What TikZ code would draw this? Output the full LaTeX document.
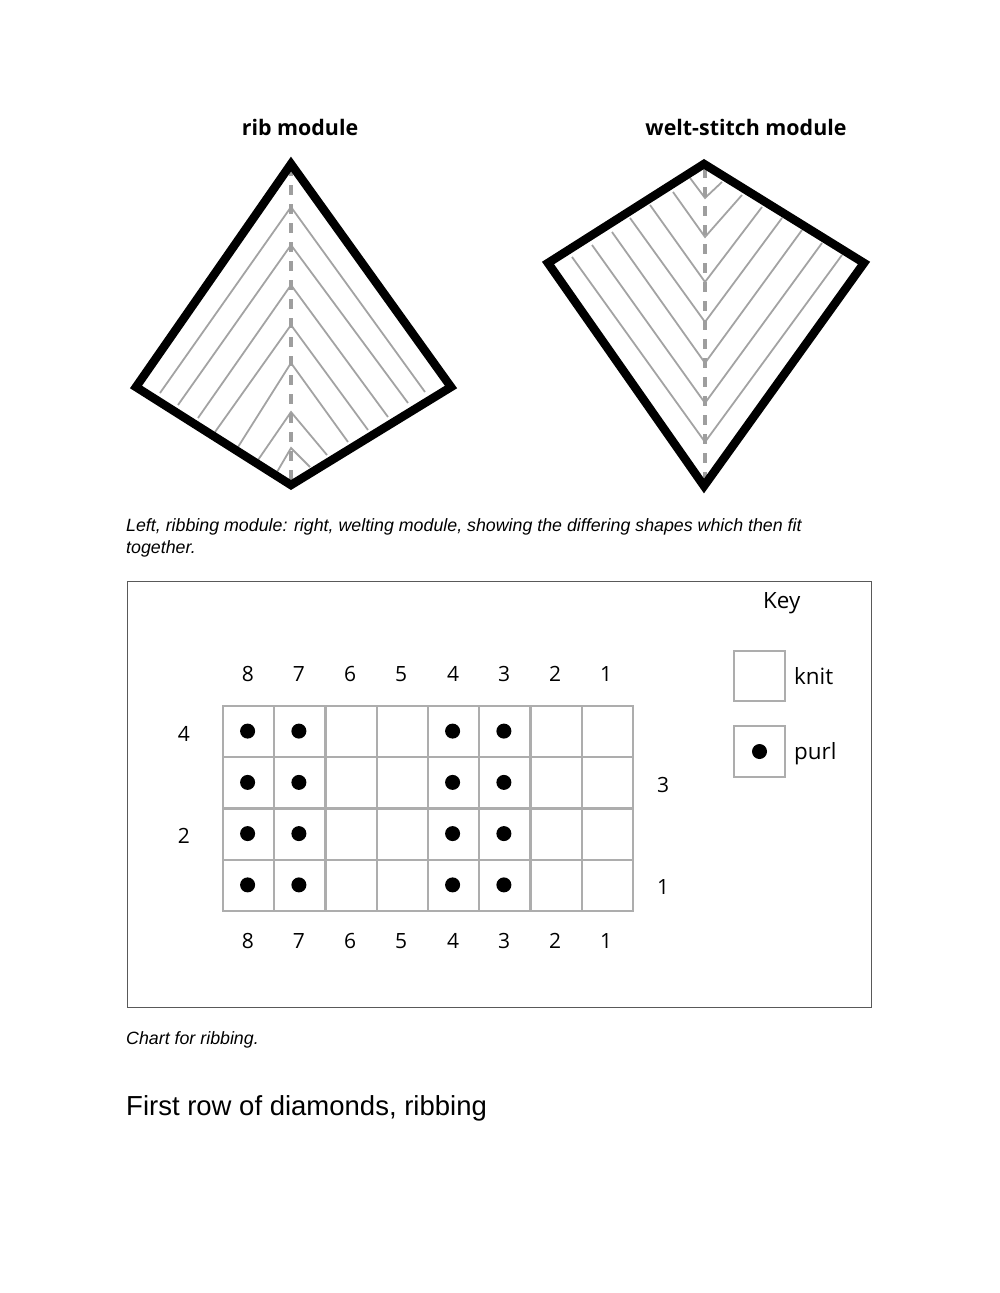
\documentclass[tikz,border=0pt]{standalone}
\usepackage{fontspec}
\setmainfont{Liberation Sans}
\newfontfamily\chartfont{Open Sans}
\usetikzlibrary{positioning}

\begin{document}
\begin{tikzpicture}[x=1pt,y=-1pt,
    outline/.style={draw=black,line width=8.5pt,line join=miter,miter limit=10},
    chevron/.style={draw=black!36,line width=1.8pt},
    spine/.style={draw=black!38,line width=4pt,dash pattern=on 9.5pt off 9.5pt},
    title/.style={font=\chartfont\bfseries\fontsize{21.4}{26}\selectfont,inner sep=0pt},
    caption/.style={font=\itshape\fontsize{17.8}{20}\selectfont,anchor=base west,inner sep=0pt},
    number/.style={font=\chartfont\fontsize{21}{24}\selectfont,inner sep=0pt},
    keyword/.style={font=\chartfont\fontsize{22.4}{26}\selectfont,anchor=base west,inner sep=0pt},
    cell/.style={draw=black!32,line width=2.4pt,minimum size=51.25pt,inner sep=0pt,outer sep=0pt},
    keycell/.style={draw=black!32,line width=2.4pt,minimum size=50.5pt,inner sep=0pt,outer sep=0pt},
    stitch/.style={circle,fill=black,minimum size=15pt,inner sep=0pt}]
    \useasboundingbox (0,0) rectangle (999,1293);

    % rib module
    \node[title] (ribtitle) at (300,127) {rib module};
    \foreach \ax/\ay/\py/\bx/\by in {160/393/207/425/392, 178/405/245/408/403, 198/418/285/388/417,
        215/432/325/368/430, 238/447/363/348/442, 258/460/412/327/455, 277/472/448/310/467}
        \draw[chevron] (\ax,\ay) -- (291,\py) -- (\bx,\by);
    \draw[spine] (291,166) -- (291,486);
    \draw[outline] (291,164) -- (451,387) -- (291,485) -- (136,387) -- cycle;

    % welt-stitch module
    \node[title] (welttitle) at (746,127) {welt-stitch module};
    \foreach \ax/\ay/\py/\bx/\by in {690/178/198/722/182, 673/192/237/742/195, 650/205/282/762/207,
        630/218/322/782/218, 612/232/363/802/230, 592/245/403/822/243, 572/257/442/842/255}
        \draw[chevron] (\ax,\ay) -- (705,\py) -- (\bx,\by);
    \draw[spine] (705,168) -- (705,488);
    \draw[outline] (704,164) -- (864,263) -- (704,486) -- (548,263) -- cycle;

    \node[caption] (capa) at (126,531) {Left, ribbing module: right, welting module, showing the differing shapes which then fit};
    \node[caption] (capb) at (126,553) {together.};

    % chart
    \draw[draw=black!65,line width=1pt] (127,581) rectangle (871.5,1007.5);
    \foreach \c/\top/\num/\cx in {1/8/248/248.6,2/7/299/299.9,3/6/350/351.1,4/5/401/402.4,
        5/4/453/453.6,6/3/504/504.9,7/2/555/556.1,8/1/606/607.4}{
        \node[number] (top\c) at (\num,674) {\top};
        \node[number] (bot\c) at (\num,941) {\top};
        \foreach \r/\y in {1/731.6,2/782.9,3/834.1,4/885.4}
            \node[cell] (cell\r\c) at (\cx,\y) {};
    }
    \foreach \c in {1,2,5,6}
        \foreach \r in {1,2,3,4}
            \node[stitch,xshift=-1pt,yshift=0.5pt] (dot\r\c) at (cell\r\c.center) {};
    \node[number] (row4) at (184,734) {4};
    \node[number] (row3) at (663,785) {3};
    \node[number] (row2) at (184,836) {2};
    \node[number] (row1) at (663,887) {1};

    % key
    \node[keyword] (key) at (763,608) {Key};
    \node[keycell] (knitbox) at (759.5,676) {};
    \node[keycell] (purlbox) at (759.5,751.5) {};
    \node[stitch] (purldot) at (purlbox.center) {};
    \node[keyword] (knit) at (794,684) {knit};
    \node[keyword] (purl) at (794,759) {purl};

    \node[caption] (capc) at (126,1044) {Chart for ribbing.};
    \node[anchor=base west,inner sep=0pt,font=\fontsize{27.5}{32}\selectfont] (heading) at (126,1115) {First row of diamonds, ribbing};
\end{tikzpicture}
\end{document}
